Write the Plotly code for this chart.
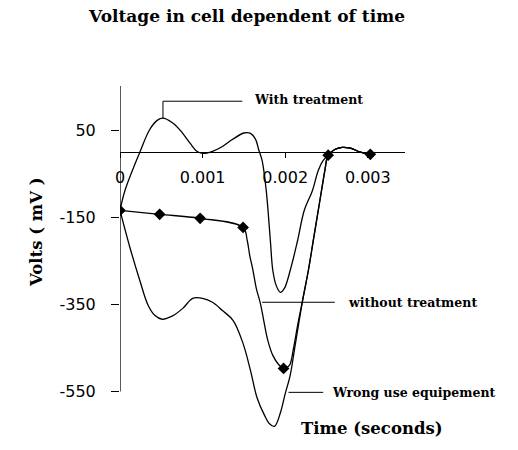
import plotly.graph_objects as go

# Time (s) and voltage (mV) samples for each cell response
t_with = [0.0, 0.00006, 0.00024, 0.00036, 0.00045, 0.00052, 0.00063, 0.00073, 0.00085,
          0.00093, 0.0010, 0.00112, 0.00124, 0.00136, 0.00150, 0.00158, 0.00164, 0.00168,
          0.00172, 0.00177, 0.00182, 0.00185, 0.00189, 0.00194, 0.00199, 0.00206,
          0.00215, 0.00223, 0.00233, 0.0024, 0.00246, 0.00252, 0.0026, 0.00269,
          0.00279, 0.00291, 0.00303]
v_with = [-134, -88, 0, 52, 73, 78, 68, 50, 20,
          2, -3, 2, 13, 29, 44, 43, 30, 5,
          -19, -88, -203, -272, -306, -322, -313, -272,
          -203, -134, -88, -42, -19, -7, 6, 11,
          9, 0, -5]

t_without = [0.0, 0.00048, 0.00097, 0.00149, 0.00154, 0.00157, 0.00161, 0.00165,
             0.00170, 0.00174, 0.00179, 0.00185, 0.00192, 0.00198, 0.00205, 0.0021,
             0.00215, 0.00221, 0.00228, 0.00234, 0.0024, 0.00245, 0.00248, 0.00252,
             0.0026, 0.00269, 0.00279, 0.00291, 0.00303]
v_without = [-134, -143, -152, -173, -203, -237, -272, -313,
             -348, -387, -433, -467, -488, -497, -490, -451,
             -398, -341, -272, -203, -134, -76, -42, -7,
             6, 11, 9, 0, -5]
# diamond markers on the "without treatment" trace
t_marks = [0.0, 0.00048, 0.00097, 0.00149, 0.00198, 0.00252, 0.00303]
v_marks = [-134, -143, -152, -173, -497, -7, -5]

t_wrong = [0.0, 0.00012, 0.00024, 0.00034, 0.00042, 0.00051, 0.00063, 0.00076,
           0.00088, 0.0010, 0.00112, 0.00124, 0.00137, 0.00149, 0.00158, 0.00166,
           0.00175, 0.00181, 0.00187, 0.00194, 0.0020, 0.00206, 0.00211, 0.00216,
           0.00221, 0.00228, 0.00234, 0.0024, 0.00245, 0.00248, 0.00252, 0.0026,
           0.00269, 0.00279, 0.00291, 0.00303]
v_wrong = [-134, -219, -295, -352, -375, -384, -377, -359,
           -336, -336, -345, -364, -387, -440, -502, -565,
           -605, -624, -630, -600, -555, -513, -456, -398,
           -341, -272, -203, -134, -76, -42, -7, 6,
           11, 9, 0, -5]

x_ticks = [0, 0.001, 0.002, 0.003]
x_tick_text = ["0", "0.001", "0.002", "0.003"]
y_ticks = [50, -150, -350, -550]
y_tick_text = ["50", "-150", "-350", "-550"]

x_range = [0, 0.00345]
y_range = [-650, 152]

line_style = dict(color="black", width=1.3)
serif = "DejaVu Serif"

fig = go.Figure()
fig.add_trace(go.Scatter(x=t_with, y=v_with, mode="lines", line=line_style,
                         line_shape="spline", name="With treatment"))
fig.add_trace(go.Scatter(x=t_wrong, y=v_wrong, mode="lines", line=line_style,
                         line_shape="spline", name="Wrong use equipement"))
fig.add_trace(go.Scatter(x=t_without, y=v_without, mode="lines", line=line_style,
                         line_shape="spline", name="without treatment"))
fig.add_trace(go.Scatter(x=t_marks, y=v_marks, mode="markers",
                         marker=dict(symbol="diamond", size=9, color="black"),
                         showlegend=False))

# vertical axis line, running only over the labelled span
fig.add_shape(type="line", xref="x", yref="y", x0=0, x1=0, y0=-550, y1=y_range[1],
              line=dict(color="black", width=1.3))

# callout leaders
callout = dict(color="black", width=1)
fig.add_shape(type="line", xref="x", yref="y", x0=0.00052, x1=0.00052, y0=78, y1=117, line=callout)
fig.add_shape(type="line", xref="x", yref="y", x0=0.00052, x1=0.00148, y0=117, y1=117, line=callout)
fig.add_shape(type="line", xref="x", yref="y", x0=0.00172, x1=0.0026, y0=-345, y1=-345, line=callout)
fig.add_shape(type="line", xref="x", yref="y", x0=0.00204, x1=0.00246, y0=-552, y1=-552, line=callout)

label_font = dict(family=serif, size=12.5, color="black")
fig.add_annotation(x=0.0016, y=122, xref="x", yref="y", text="<b>With treatment</b>",
                   showarrow=False, xanchor="left", yanchor="middle", font=label_font)
fig.add_annotation(x=0.00273, y=-345, xref="x", yref="y", text="<b>without treatment</b>",
                   showarrow=False, xanchor="left", yanchor="middle", font=label_font)
fig.add_annotation(x=0.002545, y=-552, xref="x", yref="y", text="<b>Wrong use equipement</b>",
                   showarrow=False, xanchor="left", yanchor="middle", font=label_font)

# plot area geometry
W, H = 518, 450
ml, mt = 120, 86
pw = 284.6
ph = (y_range[1] - y_range[0]) * 0.435
mr = W - ml - pw
mb = H - mt - ph

def px_x(px):
    return (px - ml) / pw

def px_y(py):
    return (H - mb - py) / ph

axis_title_font = dict(family=serif, size=16.5, color="black")
fig.add_annotation(x=px_x(36), y=px_y(232), xref="paper", yref="paper",
                   text="<b>Volts ( mV )</b>", textangle=-90, showarrow=False,
                   xanchor="center", yanchor="middle", font=axis_title_font)
fig.add_annotation(x=px_x(372), y=px_y(428), xref="paper", yref="paper",
                   text="<b>Time (seconds)</b>", showarrow=False,
                   xanchor="center", yanchor="middle", font=axis_title_font)

fig.update_layout(
    width=W, height=H,
    margin=dict(l=ml, r=mr, t=mt, b=mb),
    paper_bgcolor="white", plot_bgcolor="white",
    showlegend=False,
    title=dict(text="<b>Voltage in cell dependent of time</b>", x=247 / W, xanchor="center",
               y=1 - 16 / H, yanchor="middle", yref="container",
               font=dict(family=serif, size=17, color="black")),
    xaxis=dict(range=x_range, anchor="free",
               position=(0 - y_range[0]) / (y_range[1] - y_range[0]),
               showline=True, linecolor="black", linewidth=1.3,
               ticks="outside", ticklen=5, tickcolor="black",
               tickvals=x_ticks, ticktext=x_tick_text,
               showgrid=False, zeroline=False, ticklabelstandoff=6,
               tickfont=dict(family="DejaVu Sans", size=16, color="black")),
    yaxis=dict(range=y_range, showline=False, ticks="outside", ticklen=8,
               tickcolor="black", tickvals=y_ticks, ticktext=y_tick_text,
               showgrid=False, zeroline=False, ticklabelstandoff=12,
               tickfont=dict(family="DejaVu Sans", size=16, color="black")),
)

fig.write_html("out.html")
